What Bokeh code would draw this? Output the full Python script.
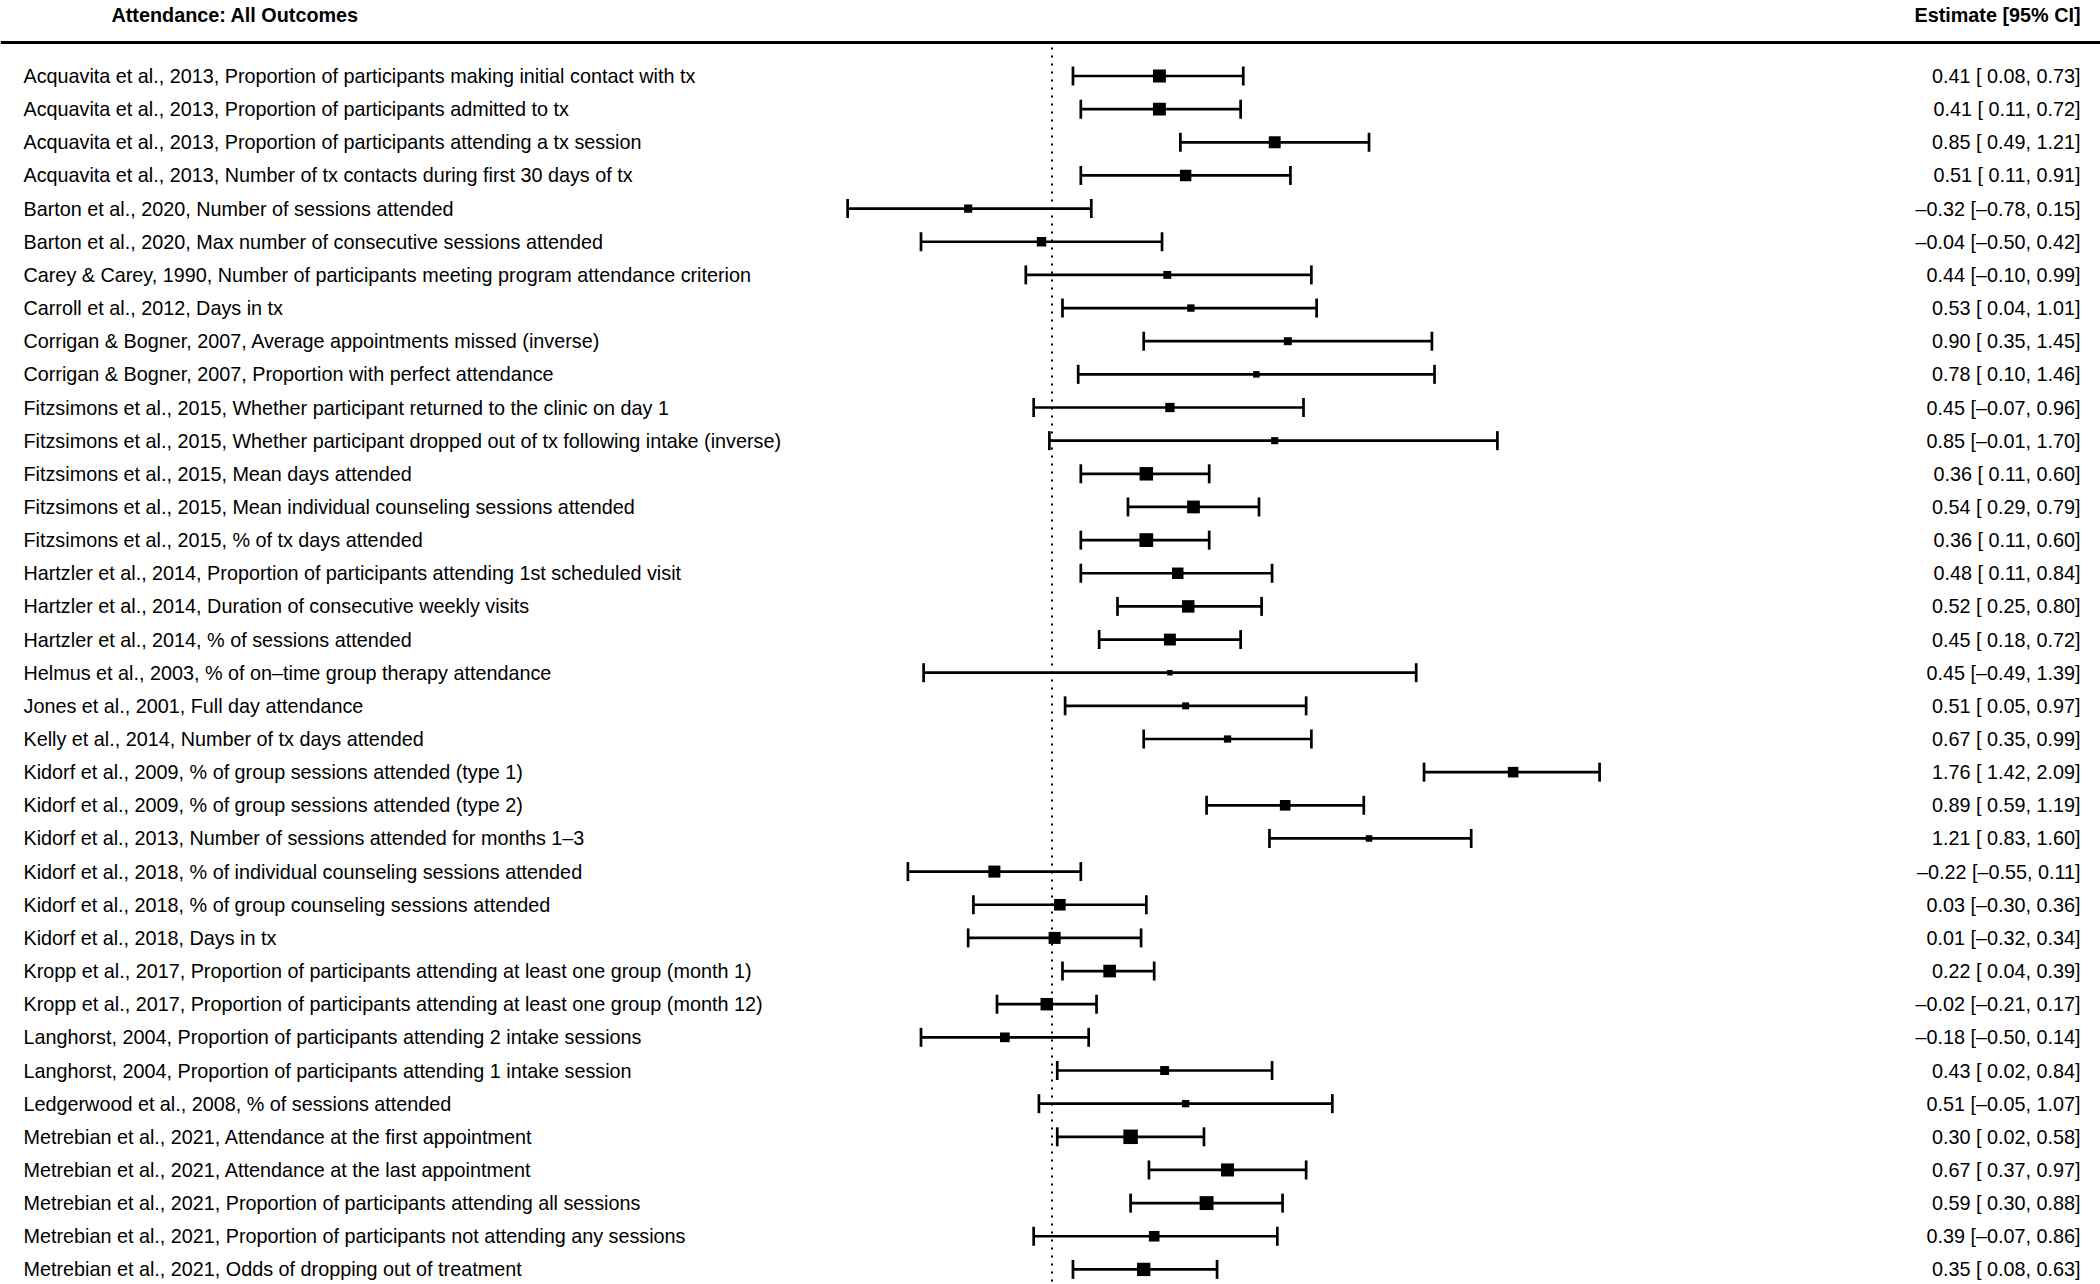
from bokeh.plotting import figure
from bokeh.models import Range1d, Span, ColumnDataSource
from bokeh.core.properties import value
from bokeh.embed import file_html
from bokeh.resources import INLINE

TITLE_LEFT = "Attendance: All Outcomes"
TITLE_RIGHT = "Estimate [95% CI]"

studies = [
    "Acquavita et al., 2013, Proportion of participants making initial contact with tx",
    "Acquavita et al., 2013, Proportion of participants admitted to tx",
    "Acquavita et al., 2013, Proportion of participants attending a tx session",
    "Acquavita et al., 2013, Number of tx contacts during first 30 days of tx",
    "Barton et al., 2020, Number of sessions attended",
    "Barton et al., 2020, Max number of consecutive sessions attended",
    "Carey & Carey, 1990, Number of participants meeting program attendance criterion",
    "Carroll et al., 2012, Days in tx",
    "Corrigan & Bogner, 2007, Average appointments missed (inverse)",
    "Corrigan & Bogner, 2007, Proportion with perfect attendance",
    "Fitzsimons et al., 2015, Whether participant returned to the clinic on day 1",
    "Fitzsimons et al., 2015, Whether participant dropped out of tx following intake (inverse)",
    "Fitzsimons et al., 2015, Mean days attended",
    "Fitzsimons et al., 2015, Mean individual counseling sessions attended",
    "Fitzsimons et al., 2015, % of tx days attended",
    "Hartzler et al., 2014, Proportion of participants attending 1st scheduled visit",
    "Hartzler et al., 2014, Duration of consecutive weekly visits",
    "Hartzler et al., 2014, % of sessions attended",
    "Helmus et al., 2003, % of on\u2013time group therapy attendance",
    "Jones et al., 2001, Full day attendance",
    "Kelly et al., 2014, Number of tx days attended",
    "Kidorf et al., 2009, % of group sessions attended (type 1)",
    "Kidorf et al., 2009, % of group sessions attended (type 2)",
    "Kidorf et al., 2013, Number of sessions attended for months 1\u20133",
    "Kidorf et al., 2018, % of individual counseling sessions attended",
    "Kidorf et al., 2018, % of group counseling sessions attended",
    "Kidorf et al., 2018, Days in tx",
    "Kropp et al., 2017, Proportion of participants attending at least one group (month 1)",
    "Kropp et al., 2017, Proportion of participants attending at least one group (month 12)",
    "Langhorst, 2004, Proportion of participants attending 2 intake sessions",
    "Langhorst, 2004, Proportion of participants attending 1 intake session",
    "Ledgerwood et al., 2008, % of sessions attended",
    "Metrebian et al., 2021, Attendance at the first appointment",
    "Metrebian et al., 2021, Attendance at the last appointment",
    "Metrebian et al., 2021, Proportion of participants attending all sessions",
    "Metrebian et al., 2021, Proportion of participants not attending any sessions",
    "Metrebian et al., 2021, Odds of dropping out of treatment",
]

estimate = [0.41, 0.41, 0.85, 0.51, -0.32, -0.04, 0.44, 0.53, 0.90, 0.78,
            0.45, 0.85, 0.36, 0.54, 0.36, 0.48, 0.52, 0.45, 0.45, 0.51,
            0.67, 1.76, 0.89, 1.21, -0.22, 0.03, 0.01, 0.22, -0.02, -0.18,
            0.43, 0.51, 0.30, 0.67, 0.59, 0.39, 0.35]
ci_lower = [0.08, 0.11, 0.49, 0.11, -0.78, -0.50, -0.10, 0.04, 0.35, 0.10,
            -0.07, -0.01, 0.11, 0.29, 0.11, 0.11, 0.25, 0.18, -0.49, 0.05,
            0.35, 1.42, 0.59, 0.83, -0.55, -0.30, -0.32, 0.04, -0.21, -0.50,
            0.02, -0.05, 0.02, 0.37, 0.30, -0.07, 0.08]
ci_upper = [0.73, 0.72, 1.21, 0.91, 0.15, 0.42, 0.99, 1.01, 1.45, 1.46,
            0.96, 1.70, 0.60, 0.79, 0.60, 0.84, 0.80, 0.72, 1.39, 0.97,
            0.99, 2.09, 1.19, 1.60, 0.11, 0.36, 0.34, 0.39, 0.17, 0.14,
            0.84, 1.07, 0.58, 0.97, 0.88, 0.86, 0.63]
weights = [0.89, 0.89, 0.82, 0.79, 0.56, 0.65, 0.55, 0.51, 0.55, 0.45,
           0.64, 0.49, 0.93, 0.88, 0.95, 0.79, 0.86, 0.82, 0.38, 0.48,
           0.50, 0.73, 0.73, 0.45, 0.83, 0.80, 0.83, 0.87, 0.86, 0.67,
           0.62, 0.51, 1.00, 0.90, 0.96, 0.73, 0.92]

# ---------------- layout (page pixel geometry) ----------------
W, H = 2100, 1284
ZERO_PX = 1051.5      # page x of effect size 0
PX_PER_UNIT = 262.0
ROW0_PX = 75.5        # page y of first row
ROW_STEP = 33.15


def xd(page_x):
    return (page_x - ZERO_PX) / PX_PER_UNIT


def yd(page_y):
    return (page_y - ROW0_PX) / ROW_STEP


FONT = "Liberation Sans"
FS = "19.8px"


def fmt(v):
    return f"{v:.2f}".replace("-", "\u2013")


def fmt_lo(v):
    s = fmt(v)
    return s if v < 0 else " " + s


n = len(studies)
rows = list(range(n))
right_txt = [f"{fmt(e)} [{fmt_lo(lo)}, {fmt(hi)}]" for e, lo, hi in zip(estimate, ci_lower, ci_upper)]
cap_h = 9.5 / ROW_STEP
sizes = [14.5 * w for w in weights]

src = ColumnDataSource(dict(
    y=rows, est=estimate, lo=ci_lower, hi=ci_upper,
    cap0=[r - cap_h for r in rows], cap1=[r + cap_h for r in rows],
    size=sizes, label=studies, rtxt=right_txt,
    lx=[xd(23)] * n, rx=[xd(2080)] * n,
))

p = figure(width=W, height=H, output_backend="svg", toolbar_location=None,
           x_range=Range1d(xd(0), xd(W)),
           y_range=Range1d(yd(H), yd(0)),
           x_axis_type=None, y_axis_type=None, min_border=0)
p.grid.visible = False
p.outline_line_color = None

# reference (dotted) line at 0
p.segment(x0=[0], x1=[0], y0=[yd(47)], y1=[yd(1300)], line_color="black",
          line_width=2, line_dash="2 6")

# header rule
p.add_layout(Span(location=yd(42), dimension="width", line_color="black", line_width=3))

# CI lines and caps
p.segment(x0="lo", x1="hi", y0="y", y1="y", source=src, line_color="black", line_width=2.7)
p.segment(x0="lo", x1="lo", y0="cap0", y1="cap1", source=src, line_color="black", line_width=2.7)
p.segment(x0="hi", x1="hi", y0="cap0", y1="cap1", source=src, line_color="black", line_width=2.7)

# point estimates
p.scatter(x="est", y="y", size="size", marker="square", source=src,
          fill_color="black", line_color=None)

# texts
p.text(x="lx", y="y", text="label", source=src, text_font=value(FONT),
       text_font_size=FS, text_align="left", text_baseline="middle", text_color="black")
p.text(x="rx", y="y", text="rtxt", source=src, text_font=value(FONT),
       text_font_size=FS, text_align="right", text_baseline="middle", text_color="black")

p.text(x=[xd(111)], y=[yd(14)], text=[TITLE_LEFT], text_font=value(FONT),
       text_font_size=FS, text_font_style="bold", text_align="left",
       text_baseline="alphabetic", text_color="black")
p.text(x=[xd(2080)], y=[yd(14)], text=[TITLE_RIGHT], text_font=value(FONT),
       text_font_size=FS, text_font_style="bold", text_align="right",
       text_baseline="alphabetic", text_color="black")

open("out.html", "w").write(file_html(p, INLINE))
